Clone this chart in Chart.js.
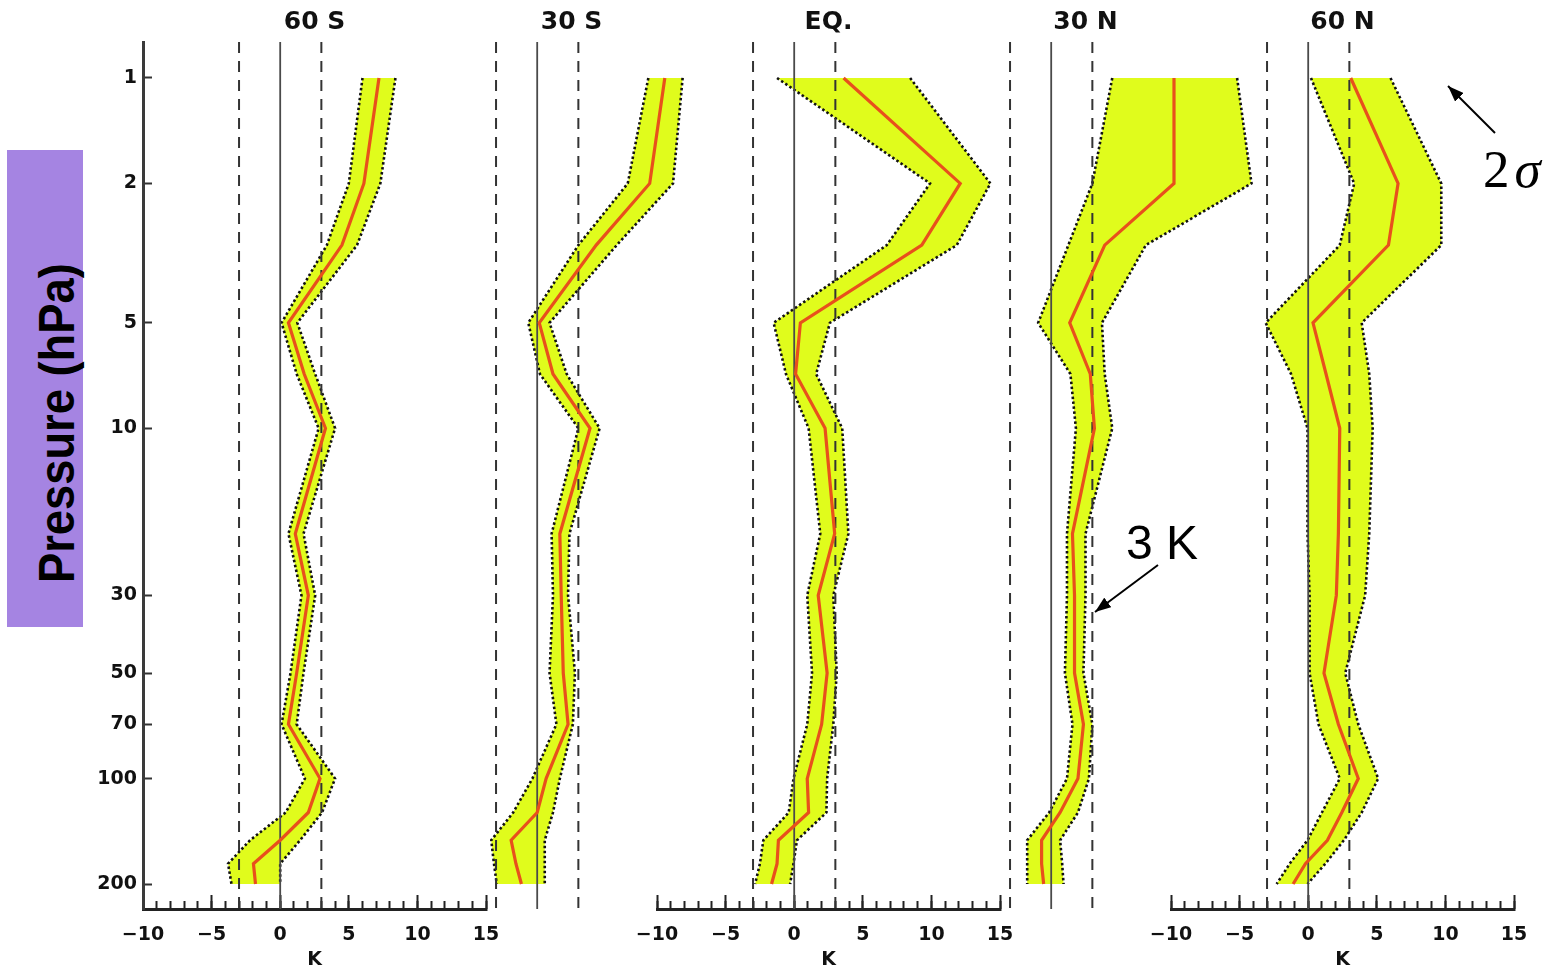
<!DOCTYPE html>
<html>
<head>
<meta charset="utf-8">
<script src="https://cdn.jsdelivr.net/npm/chart.js@4.4.1/dist/chart.umd.min.js"></script>
<style>
html, body { margin: 0; padding: 0; background: #fff; }
#wrap { position: relative; width: 1564px; height: 970px; overflow: hidden; background: #fff; }
#wrap canvas { position: absolute; left: 0; top: 0; }
#ylabBox { position: absolute; left: 7px; top: 150px; width: 76px; height: 477px; background: #A584E2; }
#ylabTxt { position: absolute; left: 32px; top: 583px; white-space: nowrap; font: bold 50px "Liberation Sans", Arial, sans-serif; line-height: 50px; color: #000; transform-origin: 0 0; transform: rotate(-90deg) scaleX(0.906); }
.ann { position: absolute; white-space: nowrap; color: #000; }
#sig { left: 1483px; top: 143px; font: 53px "Liberation Serif", "Times New Roman", serif; line-height: 53px; }
#sig span { font-style: italic; margin-left: 5px; }
#k3 { left: 1126px; top: 519px; font: 48px "Liberation Sans", Arial, sans-serif; line-height: 48px; }
#arrows { position: absolute; left: 0; top: 0; }
</style>
</head>
<body>
<div id="wrap">
  <div id="ylabBox"></div>
  <div id="ylabTxt">Pressure (hPa)</div>
  <canvas id="c0" width="1564" height="970"></canvas>
  <canvas id="c1" width="1564" height="970"></canvas>
  <canvas id="c2" width="1564" height="970"></canvas>
  <canvas id="c3" width="1564" height="970"></canvas>
  <canvas id="c4" width="1564" height="970"></canvas>
  <svg id="arrows" width="1564" height="970">
    <defs>
      <marker id="ah" markerUnits="userSpaceOnUse" markerWidth="16" markerHeight="12" refX="16" refY="6" orient="auto">
        <path d="M0,0 L16,6 L0,12 z" fill="#000"></path>
      </marker>
    </defs>
    <line x1="1495" y1="133" x2="1448" y2="86" stroke="#000" stroke-width="2" marker-end="url(#ah)"></line>
    <line x1="1158" y1="565" x2="1095" y2="612" stroke="#000" stroke-width="2" marker-end="url(#ah)"></line>
  </svg>
  <div class="ann" id="sig">2<span>σ</span></div>
  <div class="ann" id="k3">3 K</div>
</div>
<script>
// ---------------- data ----------------
const LEVELS = [1, 2, 3, 5, 7, 10, 20, 30, 50, 70, 100, 125, 150, 175, 200];   // hPa
const TITLES = ['60 S', '30 S', 'EQ.', '30 N', '60 N'];

const MEAN_60S = [7.2, 6.1, 4.5, 0.6, 1.75, 3.3, 1.1, 2.05, 1.2, 0.6, 2.9, 2.05, 0.0, -1.95, -1.8];
const LOW_60S  = [6.0, 5.0, 3.4, 0.1, 1.2, 2.8, 0.6, 1.55, 0.75, 0.1, 1.8, 0.4, -2.2, -3.8, -3.55];
const HIGH_60S = [8.4, 7.3, 5.6, 1.25, 2.55, 4.0, 1.7, 2.55, 1.7, 1.2, 4.0, 3.05, 1.45, 0.0, 0.0];

const MEAN_30S = [9.3, 8.2, 4.3, 0.15, 1.15, 3.85, 1.65, 1.75, 1.9, 2.25, 0.65, 0.0, -1.9, -1.55, -1.15];
const LOW_30S  = [8.1, 6.6, 3.0, -0.65, 0.2, 3.0, 1.05, 1.15, 0.9, 1.4, -0.35, -1.75, -3.35, -3.15, -2.95];
const HIGH_30S = [10.6, 9.9, 5.8, 0.9, 2.15, 4.55, 2.35, 2.25, 2.75, 2.6, 1.65, 1.15, 0.55, 0.55, 0.55];

const MEAN_EQ = [3.6, 12.1, 9.3, 0.45, 0.1, 2.25, 2.95, 1.75, 2.4, 2.0, 0.95, 1.05, -1.15, -1.25, -1.65];
const LOW_EQ  = [-1.25, 9.9, 6.75, -1.5, -0.6, 1.05, 1.9, 0.95, 1.3, 0.95, -0.05, -0.4, -2.25, -2.5, -2.85];
const HIGH_EQ = [8.45, 14.3, 11.85, 2.6, 1.6, 3.5, 3.95, 2.85, 3.1, 2.85, 2.4, 2.35, 0.2, -0.05, -0.3];

const MEAN_30N = [8.95, 8.95, 3.9, 1.35, 2.85, 3.15, 1.55, 1.7, 1.7, 2.35, 1.95, 0.65, -0.7, -0.7, -0.55];
const LOW_30N  = [4.45, 3.0, 1.25, -0.95, 1.4, 1.8, 1.15, 1.15, 1.0, 1.55, 1.15, -0.15, -1.75, -1.75, -1.75];
const HIGH_30N = [13.55, 14.6, 6.9, 3.7, 3.9, 4.45, 2.5, 2.5, 2.35, 3.0, 2.75, 1.95, 0.65, 0.8, 0.9];

const MEAN_60N = [3.1, 6.55, 5.85, 0.35, 1.3, 2.3, 2.2, 2.05, 1.15, 2.2, 3.65, 2.45, 1.4, -0.2, -1.1];
const LOW_60N  = [0.2, 3.35, 2.3, -3.1, -1.25, -0.05, -0.05, 0.1, 0.1, 0.75, 2.3, 1.0, -0.05, -1.35, -2.3];
const HIGH_60N = [6.0, 9.7, 9.7, 3.9, 4.45, 4.7, 4.45, 4.15, 2.7, 3.65, 5.1, 3.9, 2.6, 1.25, -0.05];

const Y_TICKS = [1, 2, 5, 10, 30, 50, 70, 100, 200];
const X_TICKS = [-10, -5, 0, 5, 10, 15];
const REF_SOLID = 0;        // K
const REF_DASHED = [-3, 3]; // K

// ---------------- layout / style ----------------
const W = 1564, H = 970;
const X_MIN = -10, X_MAX = 15;
const Y_MIN = 0.7894, Y_MAX = 235.7;         // axis bounds (hPa)
const CA_LEFT = [143, 400, 657, 914, 1171];  // chart-area left edge of each panel
const CA_W = 343, CA_BOTTOM = 909;
const Y_AXIS_W = 60, X_AXIS_H = 61;
const YELLOW = '#E0FC1C', RED = '#E8501C';
const FONT = 'DejaVu Sans';

const PANELS = [
  {mean: MEAN_60S, low: LOW_60S, high: HIGH_60S},
  {mean: MEAN_30S, low: LOW_30S, high: HIGH_30S},
  {mean: MEAN_EQ,  low: LOW_EQ,  high: HIGH_EQ},
  {mean: MEAN_30N, low: LOW_30N, high: HIGH_30N},
  {mean: MEAN_60N, low: LOW_60N, high: HIGH_60N}
];

const pts = arr => arr.map((v, k) => ({x: v, y: LEVELS[k]}));
const vline = x => [{x: x, y: Y_MIN}, {x: x, y: Y_MAX}];
const fmtK = v => (v < 0 ? '\u2212' + Math.abs(v) : String(v));
const X_MINOR = [];
for (let v = X_MIN; v <= X_MAX; v++) X_MINOR.push(v);

function makeChart(i) {
  const p = PANELS[i];
  const hasY = i === 0;
  const hasX = i % 2 === 0;
  const padLeft = CA_LEFT[i] - (hasY ? Y_AXIS_W : 0);
  const padRight = W - (CA_LEFT[i] + CA_W);
  const padBottom = hasX ? (H - CA_BOTTOM - X_AXIS_H) : (H - CA_BOTTOM);

  const datasets = [
    {label: 'low', data: pts(p.low), borderColor: '#111', borderWidth: 2.6, borderDash: [2.5, 2.5],
     pointRadius: 0, fill: false, order: 3},
    {label: 'high', data: pts(p.high), borderColor: '#111', borderWidth: 2.6, borderDash: [2.5, 2.5],
     pointRadius: 0, fill: '-1', backgroundColor: YELLOW, order: 3},
    {label: 'zero', data: vline(REF_SOLID), borderColor: '#4a4a4a', borderWidth: 1.8,
     pointRadius: 0, fill: false, order: 2},
    {label: 'minus3', data: vline(REF_DASHED[0]), borderColor: '#333', borderWidth: 2, borderDash: [11, 8],
     pointRadius: 0, fill: false, order: 2},
    {label: 'plus3', data: vline(REF_DASHED[1]), borderColor: '#333', borderWidth: 2, borderDash: [11, 8],
     pointRadius: 0, fill: false, order: 2},
    {label: 'mean', data: pts(p.mean), borderColor: RED, borderWidth: 3.2,
     pointRadius: 0, fill: false, order: 1}
  ];
  datasets.forEach(d => { d.xAxisID = 'x'; d.yAxisID = 'y'; });

  return new Chart(document.getElementById('c' + i), {
    type: 'line',
    data: {datasets},
    options: {
      indexAxis: 'y',
      responsive: false,
      maintainAspectRatio: false,
      devicePixelRatio: 1,
      animation: false,
      events: [],
      layout: {padding: {left: padLeft, right: padRight, top: 0, bottom: padBottom}},
      elements: {line: {tension: 0}},
      plugins: {
        legend: {display: false},
        tooltip: {enabled: false},
        filler: {drawTime: 'beforeDatasetsDraw'},
        title: {
          display: true, text: TITLES[i], fullSize: false, align: 'center', color: '#111',
          font: {family: FONT, weight: 'bold', size: 25, lineHeight: 1.2},
          padding: {top: 7, bottom: 5}
        }
      },
      scales: {
        x: {
          type: 'linear', axis: 'x', position: 'bottom', min: X_MIN, max: X_MAX, weight: 1,
          display: hasX,
          afterBuildTicks: s => { s.ticks = X_TICKS.map(v => ({value: v})); },
          ticks: {autoSkip: false, maxRotation: 0, minRotation: 0, padding: 30.5, color: '#111',
                  font: {family: FONT, weight: 'bold', size: 19, lineHeight: 1},
                  callback: v => fmtK(v)},
          grid: {drawOnChartArea: false, drawTicks: true, tickLength: -14, tickWidth: 2, tickColor: '#222'},
          border: {display: true, color: '#222', width: 3},
          title: {display: true, text: 'K', color: '#111', padding: 0,
                  font: {family: FONT, weight: 'bold', size: 19, lineHeight: 1}},
          afterFit: s => { s.height = hasX ? X_AXIS_H : 0; }
        },
        xm: {
          type: 'linear', axis: 'x', position: 'bottom', min: X_MIN, max: X_MAX, weight: 0,
          display: hasX,
          afterBuildTicks: s => { s.ticks = X_MINOR.map(v => ({value: v})); },
          ticks: {display: false, autoSkip: false},
          grid: {drawOnChartArea: false, drawTicks: true, tickLength: -8, tickWidth: 2, tickColor: '#222'},
          border: {display: false},
          afterFit: s => { s.height = 0; }
        },
        y: {
          type: 'logarithmic', axis: 'y', position: 'left', reverse: true, bounds: 'data',
          min: Y_MIN, max: Y_MAX, display: hasY,
          afterBuildTicks: s => { s.ticks = Y_TICKS.map(v => ({value: v})); },
          ticks: {autoSkip: false, padding: 15, color: '#111',
                  font: {family: FONT, weight: 'bold', size: 19, lineHeight: 1},
                  callback: v => String(v)},
          grid: {drawOnChartArea: false, drawTicks: true, tickLength: -9, tickWidth: 2, tickColor: '#333'},
          border: {display: true, color: '#3a3a3a', width: 3},
          afterFit: s => { s.width = hasY ? Y_AXIS_W : 0; }
        }
      }
    }
  });
}

for (let i = 0; i < 5; i++) makeChart(i);
</script>
</body>
</html>
